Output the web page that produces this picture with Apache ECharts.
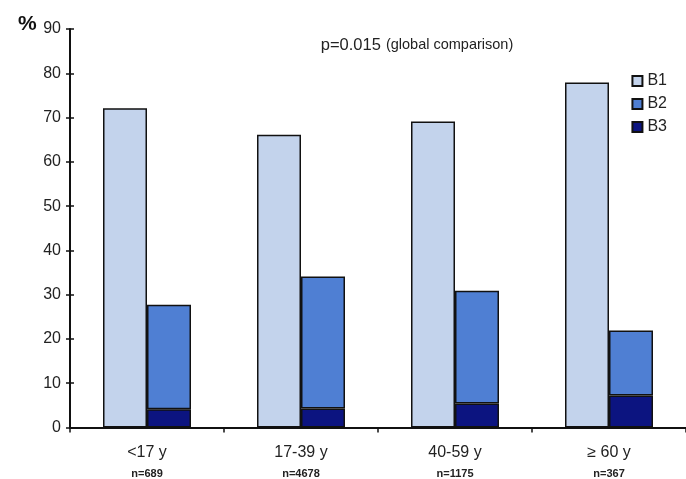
<!DOCTYPE html>
<html><head><meta charset="utf-8">
<script src="https://cdn.jsdelivr.net/npm/echarts@6/dist/echarts.min.js"></script>
<style>html,body{margin:0;padding:0;background:#fff}#c{width:686px;height:479px}</style>
</head><body><div id="c"></div>
<script>
const categories = ['<17 y', '17-39 y', '40-59 y', '\u2265 60 y'];
const sampleSizes = ['n=689', 'n=4678', 'n=1175', 'n=367'];
const b1Values = [72.1, 66.1, 69.1, 77.9];
const b3Values = [4.1, 4.3, 5.4, 7.2];
const b2Values = [23.6, 29.8, 25.5, 14.7];
const yTicks = [0, 10, 20, 30, 40, 50, 60, 70, 80, 90];

const chart = echarts.init(document.getElementById('c'), null, {renderer: 'canvas'});
const font = 'Liberation Sans, Arial, sans-serif';
chart.setOption({
  animation: false,
  textStyle: {fontFamily: font},
  title: [
    {text: '%', left: 13, top: 9, textStyle: {fontSize: 21, fontWeight: 'bold', color: '#111', fontFamily: font}},
    {text: '{a|p=0.015} {b|(global comparison)}', left: 412, top: 31, textAlign: 'center',
     textStyle: {fontWeight: 'normal', rich: {a: {fontSize: 16.5, fontWeight: 'normal', color: '#222', fontFamily: font}, b: {fontSize: 14.5, fontWeight: 'normal', color: '#222', fontFamily: font}}}}
  ],
  legend: {
    data: ['B1', 'B2', 'B3'], orient: 'vertical', right: 14, top: 68,
    itemWidth: 10, itemHeight: 10, itemGap: 7, icon: 'rect',
    textStyle: {fontSize: 16, color: '#222', fontFamily: font}
  },
  grid: {left: 70, top: 29, height: 399, width: 620},
  xAxis: {
    type: 'category', data: categories,
    axisLine: {lineStyle: {color: '#111', width: 2}},
    axisTick: {show: true, length: 5, lineStyle: {color: '#111', width: 1.5}},
    axisLabel: {
      margin: 14, interval: 0,
      formatter: function (v, i) { return '{a|' + v + '}\n{b|' + sampleSizes[i] + '}'; },
      rich: {
        a: {fontSize: 16, color: '#222', fontFamily: font, lineHeight: 22},
        b: {fontSize: 11, fontWeight: 'bold', color: '#222', fontFamily: font, lineHeight: 20}
      }
    }
  },
  yAxis: [{
    type: 'value', min: 0, max: 90, interval: 10,
    axisLine: {show: true, lineStyle: {color: '#111', width: 2}},
    axisTick: {show: true, length: 4, lineStyle: {color: '#111', width: 1.5}},
    axisLabel: {fontSize: 16, color: '#222', margin: 9, fontFamily: font},
    splitLine: {show: false}
  }, {
    type: 'value', min: 0, max: 90, interval: 10, position: 'left',
    axisLine: {show: false},
    axisTick: {show: true, inside: true, length: 4, lineStyle: {color: '#111', width: 1.5}},
    axisLabel: {show: false},
    splitLine: {show: false}
  }],
  series: [
    {name: 'B1', type: 'bar', data: b1Values, barWidth: 44, barGap: '0%',
     itemStyle: {color: '#c3d3ec', borderColor: '#111', borderWidth: 1.5}},
    {name: 'B3', type: 'bar', stack: 'b', data: b3Values, barWidth: 44,
     itemStyle: {color: '#0c1480', borderColor: '#111', borderWidth: 1.5}},
    {name: 'B2', type: 'bar', stack: 'b', data: b2Values, barWidth: 44,
     itemStyle: {color: '#4f7fd3', borderColor: '#111', borderWidth: 1.5}}
  ]
});
</script></body></html>
